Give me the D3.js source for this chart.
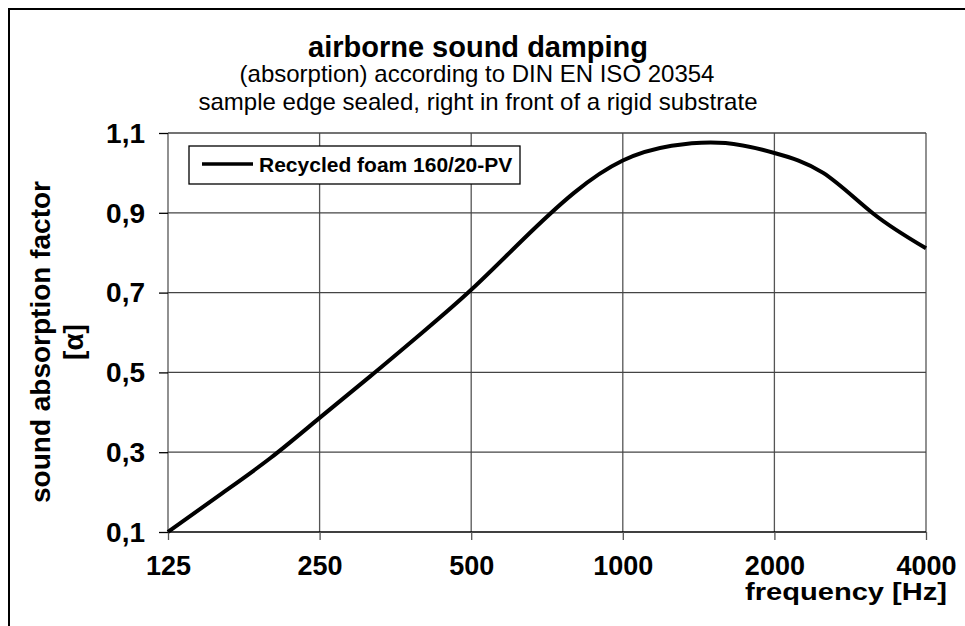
<!DOCTYPE html>
<html>
<head>
<meta charset="utf-8">
<script src="https://cdn.jsdelivr.net/npm/d3@7"></script>
<style>
  html, body { margin: 0; background: #fff; overflow: hidden; }
  svg { display: block; }
  text { font-family: "Liberation Sans", Arial, sans-serif; fill: #000; }
</style>
</head>
<body>
<div id="chart"></div>
<script>
const svgWidth = 965
const svgHeight = 626

// third-octave band centres and measured absorption factor
const freqs = [125, 160, 200, 250, 315, 400, 500, 630, 800, 1000, 1250, 1600, 2000, 2500, 3150, 4000]
const alpha = [0.10, 0.197, 0.286, 0.386, 0.49, 0.60, 0.707, 0.83, 0.95, 1.031, 1.068, 1.075, 1.05, 1.0, 0.897, 0.811]

const xTicks = [125, 250, 500, 1000, 2000, 4000]
const yTicks = [0.1, 0.3, 0.5, 0.7, 0.9, 1.1]
const seriesName = "Recycled foam 160/20-PV"

const margin = { top: 133, right: 39, bottom: 94, left: 168 }
const chartWidth = svgWidth - margin.left - margin.right
const chartHeight = svgHeight - margin.top - margin.bottom

const svg = d3.select("#chart").append("svg")
  .attr("width", svgWidth)
  .attr("height", svgHeight)

// outer frame (runs off the picture to the right and bottom)
svg.append("rect")
  .attr("x", 9).attr("y", 9)
  .attr("width", 2000).attr("height", 2000)
  .attr("fill", "none").attr("stroke", "#000").attr("stroke-width", 2)

const x = d3.scaleLog().base(2)
  .domain([125, 4000])
  .range([0, chartWidth])

const y = d3.scaleLinear()
  .domain([0.1, 1.1])
  .range([chartHeight, 0])

const chartG = svg.append("g")
  .attr("transform", `translate(${margin.left}, ${margin.top})`)

// grid
chartG.append("g")
  .selectAll("line")
  .data(xTicks)
  .join("line")
  .attr("x1", d => x(d)).attr("x2", d => x(d))
  .attr("y1", 0).attr("y2", chartHeight)
  .attr("stroke", "#555").attr("stroke-width", 1.3)

chartG.append("g")
  .selectAll("line")
  .data(yTicks)
  .join("line")
  .attr("x1", 0).attr("x2", chartWidth)
  .attr("y1", d => y(d)).attr("y2", d => y(d))
  .attr("stroke", d => d === 0.1 ? "#000" : "#444").attr("stroke-width", 1.3)

// axes
const xAxis = d3.axisBottom(x)
  .tickValues(xTicks)
  .tickFormat(d3.format("d"))
  .tickSize(8)
  .tickPadding(18)

const yAxis = d3.axisLeft(y)
  .tickValues(yTicks)
  .tickFormat(d => d3.format(".1f")(d).replace(".", ","))
  .tickSize(9)
  .tickPadding(14)

const gx = chartG.append("g")
  .attr("transform", `translate(0, ${chartHeight})`)
  .call(xAxis)
gx.select(".domain").remove()
gx.selectAll(".tick line").attr("stroke", "#555").attr("stroke-width", 1.3)
gx.selectAll(".tick text")
  .attr("font-size", 27).attr("font-weight", "bold")
  .attr("font-family", "Liberation Sans, Arial, sans-serif")
  .attr("dy", "0.63em")

const gy = chartG.append("g").call(yAxis)
gy.select(".domain").remove()
gy.selectAll(".tick line").attr("stroke", "#000").attr("stroke-width", 1.3)
gy.selectAll(".tick text")
  .attr("font-size", 28).attr("font-weight", "bold")
  .attr("font-family", "Liberation Sans, Arial, sans-serif")
  .attr("dy", "0.33em")

// curve
const line = d3.line()
  .x((d, i) => x(freqs[i]))
  .y(d => y(d))
  .curve(d3.curveNatural)

chartG.append("path")
  .datum(alpha)
  .attr("d", line)
  .attr("fill", "none")
  .attr("stroke", "#000")
  .attr("stroke-width", 4)
  .attr("stroke-linejoin", "round")

// legend
const legend = svg.append("g").attr("transform", "translate(189, 146)")
legend.append("rect")
  .attr("width", 331).attr("height", 38)
  .attr("fill", "#fff").attr("stroke", "#000").attr("stroke-width", 1.3)
legend.append("line")
  .attr("x1", 13).attr("x2", 64).attr("y1", 18).attr("y2", 18)
  .attr("stroke", "#000").attr("stroke-width", 3.5)
legend.append("text")
  .attr("x", 70).attr("y", 26)
  .attr("font-size", 21).attr("font-weight", "bold")
  .text(seriesName)

// titles
svg.append("text")
  .attr("x", 478).attr("y", 57)
  .attr("text-anchor", "middle")
  .attr("font-size", 29).attr("font-weight", "bold")
  .text("airborne sound damping")

svg.append("text")
  .attr("x", 477).attr("y", 82)
  .attr("text-anchor", "middle")
  .attr("font-size", 24)
  .text("(absorption) according to DIN EN ISO 20354")

svg.append("text")
  .attr("x", 478).attr("y", 110)
  .attr("text-anchor", "middle")
  .attr("font-size", 24)
  .text("sample edge sealed, right in front of a rigid substrate")

// axis titles
svg.append("text")
  .attr("x", 745).attr("y", 600)
  .attr("font-size", 23).attr("font-weight", "bold")
  .attr("textLength", 202).attr("lengthAdjust", "spacingAndGlyphs")
  .text("frequency [Hz]")

const yLabel = svg.append("text")
  .attr("transform", "translate(50, 342) rotate(-90)")
  .attr("text-anchor", "middle")
  .attr("font-size", 28).attr("font-weight", "bold")
yLabel.append("tspan").attr("x", 0).attr("y", 0).text("sound absorption factor")
yLabel.append("tspan").attr("x", 0).attr("y", 33).text("[α]")
</script>
</body>
</html>
